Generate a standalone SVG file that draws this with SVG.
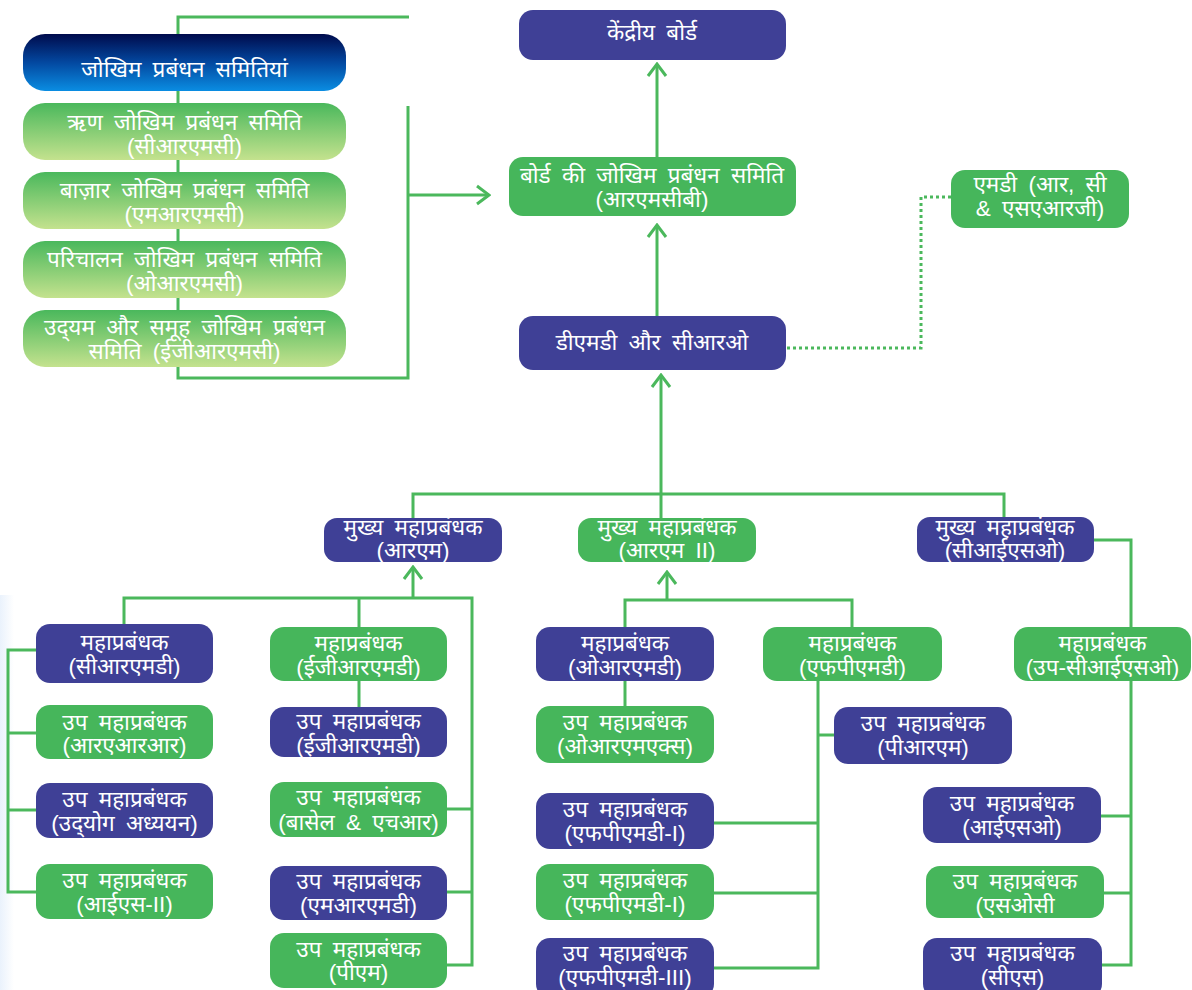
<svg xmlns="http://www.w3.org/2000/svg" width="1192" height="990" viewBox="0 0 1192 990">
  <defs>
    <linearGradient id="gHead" x1="0" y1="0" x2="0" y2="1">
      <stop offset="0" stop-color="#000b4c"/>
      <stop offset="0.5" stop-color="#0348a0"/>
      <stop offset="1" stop-color="#0a8de2"/>
    </linearGradient>
    <linearGradient id="gSoft" x1="0" y1="0" x2="0" y2="1">
      <stop offset="0" stop-color="#4ab85c"/>
      <stop offset="1" stop-color="#c4e28e"/>
    </linearGradient>
    <linearGradient id="gEdge" x1="0" y1="0" x2="1" y2="0">
      <stop offset="0" stop-color="#eaf2fc"/>
      <stop offset="1" stop-color="#ffffff"/>
    </linearGradient>
    <marker id="arr" viewBox="-14 -11 16 22" markerWidth="16" markerHeight="22" markerUnits="userSpaceOnUse" refX="0" refY="0" orient="auto">
      <path d="M-12,-9 L0,0 L-12,9" fill="none" stroke="#4bb85c" stroke-width="3"/>
    </marker>
  </defs>
  <style>
    .p { fill: #3f4096; }
    .g { fill: #46b65b; }
    .s { fill: url(#gSoft); }
    .h { fill: url(#gHead); }
    .c { fill: none; stroke: #4bb85c; stroke-width: 3; }
    .d { fill: none; stroke: #4bb85c; stroke-width: 3; stroke-dasharray: 3 3; }
    text { font-family: "Liberation Sans", "Noto Sans Devanagari", "Noto Sans", sans-serif; font-size: 22.5px; fill: #ffffff; text-anchor: middle; word-spacing: 5px; }
  </style>

  <rect x="0" y="595" width="14" height="395" fill="url(#gEdge)"/>

  <g id="connectors">
    <!-- committees bracket and arrow to board committee -->
    <polyline class="c" points="409,17 178,17 178,378 408,378 408,106"/>
    <line class="c" x1="408" y1="195" x2="489" y2="195" marker-end="url(#arr)"/>
    <!-- upward chain -->
    <line class="c" x1="657" y1="157" x2="657" y2="64" marker-end="url(#arr)"/>
    <line class="c" x1="657" y1="316" x2="657" y2="225" marker-end="url(#arr)"/>
    <polyline class="d" points="787,348 921,348 921,197 952,197"/>
    <line class="c" x1="661" y1="518" x2="661" y2="375" marker-end="url(#arr)"/>
    <polyline class="c" points="413,518 413,494 1004,494 1004,518"/>
    <!-- RM branch -->
    <line class="c" x1="413" y1="598" x2="413" y2="567" marker-end="url(#arr)"/>
    <polyline class="c" points="124,624 124,598 472,598 472,965 447,965"/>
    <line class="c" x1="359" y1="598" x2="359" y2="627"/>
    <line class="c" x1="359" y1="681" x2="359" y2="707"/>
    <polyline class="c" points="36,650 8,650 8,892 36,892"/>
    <line class="c" x1="8" y1="733" x2="36" y2="733"/>
    <line class="c" x1="8" y1="810" x2="36" y2="810"/>
    <line class="c" x1="447" y1="809" x2="472" y2="809"/>
    <line class="c" x1="447" y1="892" x2="472" y2="892"/>
    <!-- RM II branch -->
    <line class="c" x1="667" y1="600" x2="667" y2="572" marker-end="url(#arr)"/>
    <polyline class="c" points="625,627 625,600 852,600 852,627"/>
    <line class="c" x1="625" y1="681" x2="625" y2="706"/>
    <polyline class="c" points="818,681 818,968 714,968"/>
    <line class="c" x1="818" y1="735" x2="834" y2="735"/>
    <line class="c" x1="714" y1="823" x2="818" y2="823"/>
    <line class="c" x1="714" y1="893" x2="818" y2="893"/>
    <!-- CISO branch -->
    <polyline class="c" points="1094,540 1131,540 1131,627"/>
    <polyline class="c" points="1131,681 1131,965 1102,965"/>
    <line class="c" x1="1101" y1="816" x2="1131" y2="816"/>
    <line class="c" x1="1104" y1="893" x2="1131" y2="893"/>
  </g>

  <!-- risk management committees -->
  <g id="n-committees">
    <rect class="h" x="23" y="34" width="323" height="57" rx="22"/>
    <text x="184.5" y="77" font-size="24">जोखिम प्रबंधन समितियां</text>
  </g>
  <g id="n-crmc">
    <rect class="s" x="23" y="103" width="323" height="57" rx="22"/>
    <text x="184.5" y="130">ऋण जोखिम प्रबंधन समिति</text>
    <text x="184.5" y="154">(सीआरएमसी)</text>
  </g>
  <g id="n-mrmc">
    <rect class="s" x="23" y="172" width="323" height="57" rx="22"/>
    <text x="184.5" y="198">बाज़ार जोखिम प्रबंधन समिति</text>
    <text x="184.5" y="222">(एमआरएमसी)</text>
  </g>
  <g id="n-ormc">
    <rect class="s" x="23" y="241" width="323" height="57" rx="22"/>
    <text x="184.5" y="267">परिचालन जोखिम प्रबंधन समिति</text>
    <text x="184.5" y="291">(ओआरएमसी)</text>
  </g>
  <g id="n-egrmc">
    <rect class="s" x="23" y="310" width="323" height="57" rx="22"/>
    <text x="184.5" y="335">उद्‌यम और समूह जोखिम प्रबंधन</text>
    <text x="184.5" y="359">समिति (ईजीआरएमसी)</text>
  </g>

  <!-- board level -->
  <g id="n-central-board">
    <rect class="p" x="519" y="10" width="267" height="50" rx="14"/>
    <text x="652" y="40">केंद्रीय बोर्ड</text>
  </g>
  <g id="n-rmcb">
    <rect class="g" x="509" y="157" width="287" height="59" rx="14"/>
    <text x="652" y="183">बोर्ड की जोखिम प्रबंधन समिति</text>
    <text x="652" y="207">(आरएमसीबी)</text>
  </g>
  <g id="n-md">
    <rect class="g" x="951" y="170" width="178" height="58" rx="14"/>
    <text x="1040" y="192">एमडी (आर, सी</text>
    <text x="1040" y="216">&amp; एसएआरजी)</text>
  </g>
  <g id="n-dmd">
    <rect class="p" x="519" y="316" width="267" height="54" rx="14"/>
    <text x="652" y="350">डीएमडी और सीआरओ</text>
  </g>

  <!-- chief general managers -->
  <g id="n-cgm-rm">
    <rect class="p" x="324" y="518" width="178" height="44" rx="13"/>
    <text x="413" y="535">मुख्य महाप्रबंधक</text>
    <text x="413" y="558">(आरएम)</text>
  </g>
  <g id="n-cgm-rm2">
    <rect class="g" x="578" y="518" width="178" height="44" rx="13"/>
    <text x="667" y="535">मुख्य महाप्रबंधक</text>
    <text x="667" y="558">(आरएम II)</text>
  </g>
  <g id="n-cgm-ciso">
    <rect class="p" x="917" y="517" width="177" height="45" rx="13"/>
    <text x="1005" y="535">मुख्य महाप्रबंधक</text>
    <text x="1005" y="558">(सीआईएसओ)</text>
  </g>

  <!-- RM column -->
  <g id="n-gm-crmd">
    <rect class="p" x="36" y="624" width="177" height="59" rx="14"/>
    <text x="124.5" y="650">महाप्रबंधक</text>
    <text x="124.5" y="674">(सीआरएमडी)</text>
  </g>
  <g id="n-dgm-rarr">
    <rect class="g" x="36" y="705" width="177" height="54" rx="14"/>
    <text x="124.5" y="730">उप महाप्रबंधक</text>
    <text x="124.5" y="753">(आरएआरआर)</text>
  </g>
  <g id="n-dgm-industry">
    <rect class="p" x="36" y="783" width="177" height="55" rx="14"/>
    <text x="124.5" y="807">उप महाप्रबंधक</text>
    <text x="124.5" y="831">(उद्‌योग अध्ययन)</text>
  </g>
  <g id="n-dgm-is2">
    <rect class="g" x="36" y="864" width="177" height="55" rx="14"/>
    <text x="124.5" y="888">उप महाप्रबंधक</text>
    <text x="124.5" y="912">(आईएस-II)</text>
  </g>
  <g id="n-gm-egrmd">
    <rect class="g" x="270" y="627" width="177" height="54" rx="14"/>
    <text x="358.5" y="651">महाप्रबंधक</text>
    <text x="358.5" y="675">(ईजीआरएमडी)</text>
  </g>
  <g id="n-dgm-egrmd">
    <rect class="p" x="270" y="707" width="177" height="50" rx="14"/>
    <text x="358.5" y="729">उप महाप्रबंधक</text>
    <text x="358.5" y="753">(ईजीआरएमडी)</text>
  </g>
  <g id="n-dgm-basel">
    <rect class="g" x="270" y="782" width="177" height="55" rx="14"/>
    <text x="358.5" y="805">उप महाप्रबंधक</text>
    <text x="358.5" y="830">(बासेल &amp; एचआर)</text>
  </g>
  <g id="n-dgm-mrmd">
    <rect class="p" x="270" y="866" width="177" height="54" rx="14"/>
    <text x="358.5" y="889">उप महाप्रबंधक</text>
    <text x="358.5" y="913">(एमआरएमडी)</text>
  </g>
  <g id="n-dgm-pm">
    <rect class="g" x="270" y="933" width="177" height="55" rx="14"/>
    <text x="358.5" y="957">उप महाप्रबंधक</text>
    <text x="358.5" y="980">(पीएम)</text>
  </g>

  <!-- RM II column -->
  <g id="n-gm-ormd">
    <rect class="p" x="536" y="627" width="178" height="54" rx="14"/>
    <text x="625" y="651">महाप्रबंधक</text>
    <text x="625" y="675">(ओआरएमडी)</text>
  </g>
  <g id="n-dgm-ormx">
    <rect class="g" x="536" y="706" width="178" height="57" rx="14"/>
    <text x="625" y="730">उप महाप्रबंधक</text>
    <text x="625" y="754">(ओआरएमएक्स)</text>
  </g>
  <g id="n-gm-fpmd">
    <rect class="g" x="763" y="627" width="179" height="54" rx="14"/>
    <text x="852.5" y="651">महाप्रबंधक</text>
    <text x="852.5" y="675">(एफपीएमडी)</text>
  </g>
  <g id="n-dgm-prm">
    <rect class="p" x="834" y="707" width="178" height="57" rx="14"/>
    <text x="923" y="731">उप महाप्रबंधक</text>
    <text x="923" y="755">(पीआरएम)</text>
  </g>
  <g id="n-dgm-fpmd1a">
    <rect class="p" x="536" y="793" width="178" height="56" rx="14"/>
    <text x="625" y="817">उप महाप्रबंधक</text>
    <text x="625" y="841">(एफपीएमडी-I)</text>
  </g>
  <g id="n-dgm-fpmd1b">
    <rect class="g" x="536" y="864" width="178" height="56" rx="14"/>
    <text x="625" y="888">उप महाप्रबंधक</text>
    <text x="625" y="912">(एफपीएमडी-I)</text>
  </g>
  <g id="n-dgm-fpmd3">
    <rect class="p" x="536" y="938" width="178" height="60" rx="14"/>
    <text x="625" y="961">उप महाप्रबंधक</text>
    <text x="625" y="985">(एफपीएमडी-III)</text>
  </g>

  <!-- CISO column -->
  <g id="n-gm-dciso">
    <rect class="g" x="1014" y="627" width="177" height="54" rx="14"/>
    <text x="1102.5" y="651">महाप्रबंधक</text>
    <text x="1102.5" y="675">(उप-सीआईएसओ)</text>
  </g>
  <g id="n-dgm-iso">
    <rect class="p" x="923" y="787" width="178" height="56" rx="14"/>
    <text x="1012" y="811">उप महाप्रबंधक</text>
    <text x="1012" y="835">(आईएसओ)</text>
  </g>
  <g id="n-dgm-soc">
    <rect class="g" x="926" y="866" width="178" height="52" rx="14"/>
    <text x="1015" y="889">उप महाप्रबंधक</text>
    <text x="1015" y="913">(एसओसी</text>
  </g>
  <g id="n-dgm-cs">
    <rect class="p" x="923" y="938" width="179" height="60" rx="14"/>
    <text x="1012.5" y="961">उप महाप्रबंधक</text>
    <text x="1012.5" y="985">(सीएस)</text>
  </g>
</svg>
